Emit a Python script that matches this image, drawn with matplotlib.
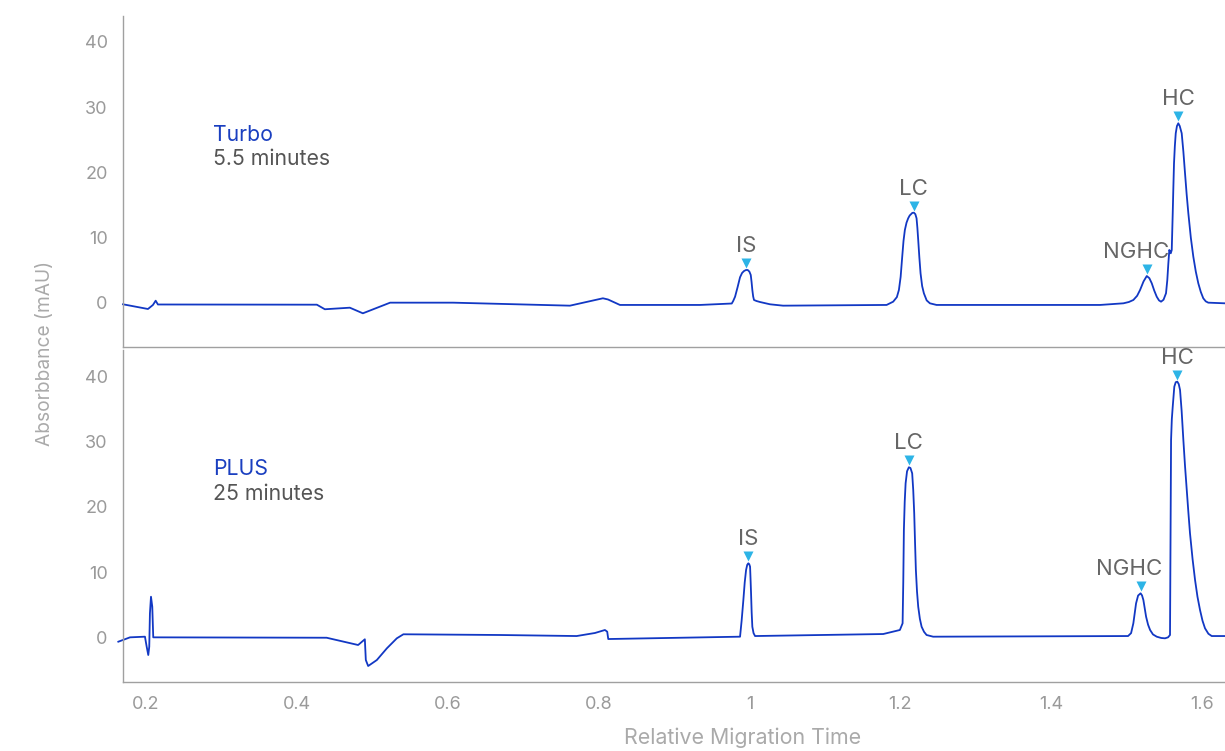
import numpy as np
import matplotlib
matplotlib.use("Agg")
import matplotlib.pyplot as plt
from matplotlib.transforms import offset_copy

plt.rcParams['font.family'] = ['Inter', 'DejaVu Sans']

# Turbo trace (relative migration time, absorbance mAU)
turbo_t = [0.1694, 0.2025, 0.2091, 0.2127, 0.2157, 0.4264, 0.4370, 0.4701, 0.4874,
           0.5235, 0.6070, 0.7619, 0.8056, 0.8123, 0.8282, 0.9344,
           0.9764, 0.9783, 0.9808, 0.9841, 0.9874, 0.9901, 0.9927, 0.9953, 0.9976,
           0.9998, 1.0016, 1.0027, 1.0037, 1.0048, 1.0059, 1.0093, 1.0139, 1.0271,
           1.0444, 1.1817,
           1.1904, 1.1953, 1.1980, 1.2003, 1.2024, 1.2041, 1.2059, 1.2081, 1.2103,
           1.2123, 1.2158, 1.2179, 1.2198, 1.2214, 1.2225, 1.2236, 1.2251, 1.2267,
           1.2288, 1.2311, 1.2348, 1.2391, 1.2479, 1.4647,
           1.4956, 1.5028, 1.5088, 1.5138, 1.5177, 1.5223, 1.5266, 1.5300, 1.5332,
           1.5365, 1.5398, 1.5428, 1.5455, 1.5488, 1.5521, 1.5538, 1.5552, 1.5565,
           1.5584, 1.5597, 1.5610, 1.5618, 1.5627, 1.5638, 1.5650, 1.5666, 1.5684,
           1.5703, 1.5729, 1.5751, 1.5773, 1.5795, 1.5817, 1.5850, 1.5883, 1.5916,
           1.5949, 1.5982, 1.6015, 1.6048, 1.6081, 1.6303]
turbo_a = [-0.2, -0.92, -0.3, 0.35, -0.23, -0.26, -0.96, -0.72, -1.58,
           0.05, 0.05, -0.41, 0.72, 0.54, -0.3, -0.3,
           -0.08, 0.3, 0.96, 2.4, 3.94, 4.6, 4.9, 5.05, 5.05,
           4.8, 4.29, 3.2, 1.99, 1.0, 0.46, 0.3, 0.15, -0.2,
           -0.41, -0.3,
           0.2, 0.9, 1.99, 4.0, 7.09, 9.5, 11.18, 12.3, 12.97,
           13.4, 13.8, 13.83, 13.6, 12.97, 11.5, 9.65, 7.0, 4.55,
           2.6, 1.49, 0.4, -0.05, -0.3, -0.3,
           -0.05, 0.15, 0.46, 1.1, 1.99, 3.3, 4.13, 3.8, 3.02,
           1.9, 0.96, 0.4, 0.2, 0.5, 1.49, 3.5, 6.08, 8.12,
           7.61, 8.12, 13.74, 17.5, 21.39, 24.0, 25.99, 27.1, 27.52,
           27.1, 25.99, 23.2, 19.86, 16.6, 13.74, 10.0, 7.09, 4.8,
           3.02, 1.7, 0.72, 0.25, 0.05, -0.05]

# PLUS trace
plus_t = [0.1632, 0.1787, 0.1985, 0.2008, 0.2029, 0.2042, 0.2051, 0.2065, 0.2082,
          0.2095, 0.4393, 0.4811, 0.4900, 0.4913, 0.4944, 0.5059, 0.5192, 0.5324,
          0.5411, 0.6692, 0.7708, 0.7951, 0.8083, 0.8113, 0.8127,
          0.9874, 0.9895, 0.9918, 0.9936, 0.9954, 0.9969, 0.9984, 0.9996, 1.0007,
          1.0013, 1.0020, 1.0028, 1.0037, 1.0053, 1.0073, 1.1772, 1.1993,
          1.2029, 1.2038, 1.2046, 1.2057, 1.2069, 1.2088, 1.2112, 1.2133, 1.2156,
          1.2170, 1.2183, 1.2194, 1.2205, 1.2220, 1.2236, 1.2258, 1.2281, 1.2313,
          1.2347, 1.2434,
          1.5018, 1.5058, 1.5088, 1.5124, 1.5151, 1.5184, 1.5203, 1.5221, 1.5257,
          1.5283, 1.5310, 1.5348, 1.5398, 1.5458, 1.5508, 1.5548, 1.5574,
          1.5588, 1.5598, 1.5610, 1.5631, 1.5650, 1.5671, 1.5690, 1.5707, 1.5728,
          1.5751, 1.5773, 1.5796, 1.5818, 1.5839, 1.5873, 1.5906, 1.5938, 1.5972,
          1.6005, 1.6038, 1.6083, 1.6127, 1.6303]
plus_a = [-0.72, -0.05, 0.05, -1.49, -2.77, -1.49, 3.65, 6.2, 4.66,
          -0.05, -0.11, -1.23, -0.35, -3.54, -4.46, -3.54, -1.74, -0.2,
          0.42, 0.31, 0.15, 0.62, 1.08, 0.82, -0.31,
          0.05, 2.5, 5.69, 8.4, 10.31, 11.1, 11.34, 11.2, 10.82,
          9.0, 6.72, 3.8, 1.58, 0.6, 0.15, 0.46, 1.08,
          2.11, 8.5, 16.46, 20.8, 23.65, 25.5, 26.11, 26.0, 25.18,
          22.6, 19.03, 14.5, 10.31, 7.0, 4.66, 2.8, 1.58, 0.8,
          0.31, 0.05,
          0.15, 0.6, 2.11, 5.18, 6.38, 6.72, 6.4, 5.69, 3.12,
          1.9, 1.08, 0.4, 0.05, -0.15, -0.2, -0.05, 0.31,
          30.31, 33.5, 35.43, 38.51, 39.2, 39.28, 38.9, 38.0, 34.8,
          30.31, 26.3, 22.62, 19.1, 15.95, 12.0, 8.77, 6.2, 4.15,
          2.5, 1.34, 0.5, 0.15, 0.15]

peak_names = ['IS', 'LC', 'NGHC', 'HC']
turbo_peaks = [0.998, 1.218, 1.527, 1.568]
plus_peaks = [0.998, 1.211, 1.518, 1.567]
label_dx = [0, 0, -11, 0]

x_ticks = [0.2, 0.4, 0.6, 0.8, 1.0, 1.2, 1.4, 1.6]
x_ticklabels = ['0.2', '0.4', '0.6', '0.8', '1', '1.2', '1.4', '1.6']
y_ticks = [0, 10, 20, 30, 40]

line_c = '#1238c4'
tri_c = '#2db4e6'
grey = '#9a9a9a'

fig = plt.figure(figsize=(12.25, 7.51), dpi=100)
ax1 = fig.add_axes([123 / 1225, 1 - 347 / 751, 1 - 123 / 1225, 331 / 751])
ax2 = fig.add_axes([123 / 1225, 1 - 682 / 751, 1 - 123 / 1225, 332 / 751])

panels = [
    (ax1, turbo_t, turbo_a, turbo_peaks, 'Turbo', '5.5 minutes', (-6.74, 43.95)),
    (ax2, plus_t, plus_a, plus_peaks, 'PLUS', '25 minutes', (-6.92, 44.15)),
]

for ax, t, a, peaks, name, sub, ylim in panels:
    t = np.array(t)
    a = np.array(a)
    ax.plot(t, a, color=line_c, lw=1.3, clip_on=False, solid_joinstyle='round')
    ax.set_xlim(0.1694, 1.6303)
    ax.set_ylim(*ylim)
    ax.set_yticks(y_ticks)
    ax.tick_params(axis='y', length=0, pad=11, labelsize=13, labelcolor=grey)
    for s in ['top', 'right']:
        ax.spines[s].set_visible(False)
    for s in ['left', 'bottom']:
        ax.spines[s].set_color('#a0a0a0')
        ax.spines[s].set_linewidth(1.0)

    # triangle marker and label just above each peak tip
    tri_tr = offset_copy(ax.transData, fig=fig, x=0, y=7, units='dots')
    for pname, px, dx in zip(peak_names, peaks, label_dx):
        win = np.abs(t - px) < 0.006
        i = np.argmax(np.where(win, a, -99))
        ax.plot(t[i], a[i], marker='v', ms=6.5, color=tri_c, mec='none',
                transform=tri_tr, clip_on=False)
        ax.annotate(pname, (t[i], a[i]), xytext=(dx, 24), textcoords='offset pixels',
                    ha='center', va='center', fontsize=16, color='#666666')

    ax.text(0.2887, 25.8, name, color='#1a3fc0', fontsize=15.3, va='center', ha='left')
    ax.text(0.2887, 22.0, sub, color='#555555', fontsize=15.3, va='center', ha='left')

ax1.set_xticks([])
ax2.set_xticks(x_ticks)
ax2.set_xticklabels(x_ticklabels)
ax2.tick_params(axis='x', length=0, pad=10, labelsize=13, labelcolor=grey)

fig.text(45 / 1225, 1 - 353 / 751, 'Absorbbance (mAU)', rotation=90, ha='center',
         va='center', fontsize=13.8, color='#aaaaaa')
fig.text(743 / 1225, 1 - 738 / 751, 'Relative Migration Time', ha='center',
         va='center', fontsize=15.4, color='#aaaaaa')

fig.savefig('out.png', dpi=100)
